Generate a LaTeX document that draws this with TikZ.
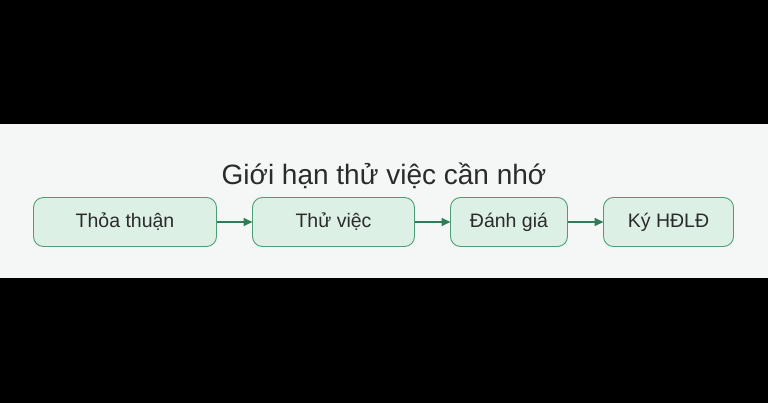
\documentclass[tikz,border=0pt]{standalone}
\usepackage{fontspec}
\setmainfont{Liberation Sans}
\usepackage{tikz}
\usetikzlibrary{positioning, arrows.meta}
\definecolor{bandgray}{HTML}{F5F7F6}
\definecolor{boxfill}{HTML}{DDF0E5}
\definecolor{boxline}{HTML}{4E9E74}
\definecolor{arrowgreen}{HTML}{2E7D57}
\definecolor{textdark}{HTML}{2B2B2B}
\tikzstyle{step box} = [rectangle, rounded corners=10pt, minimum height=49pt, inner sep=0pt, outer sep=0pt, text centered, draw=boxline, line width=0.9pt, fill=boxfill, text=textdark, font=\fontsize{19.5}{22}\selectfont]
\tikzstyle{arrow} = [line width=1.6pt, draw=arrowgreen, -{Triangle[length=9pt, width=8pt]}]
\begin{document}
\begin{tikzpicture}[x=1pt, y=-1pt, node distance=36pt]
% Fond
\useasboundingbox[fill=black] (0,0) rectangle (768,403);
\fill[bandgray] (0,124) rectangle (768,278);

% Titre
\node (title) [text=textdark, font=\fontsize{28}{32}\selectfont] at (384,176) {Giới hạn thử việc cần nhớ};

% Etapes
\node (thoathuan) [step box, minimum width=183pt] at (125,222) {Thỏa thuận};
\node (thuviec) [step box, minimum width=162pt, right=of thoathuan] {Thử việc};
\node (danhgia) [step box, minimum width=117pt, right=of thuviec] {Đánh giá};
\node (kyhd) [step box, minimum width=130pt, right=of danhgia] {Ký HĐLĐ};

% Fleches
\draw [arrow] (thoathuan) -- (thuviec);
\draw [arrow] (thuviec) -- (danhgia);
\draw [arrow] (danhgia) -- (kyhd);
\end{tikzpicture}
\end{document}
